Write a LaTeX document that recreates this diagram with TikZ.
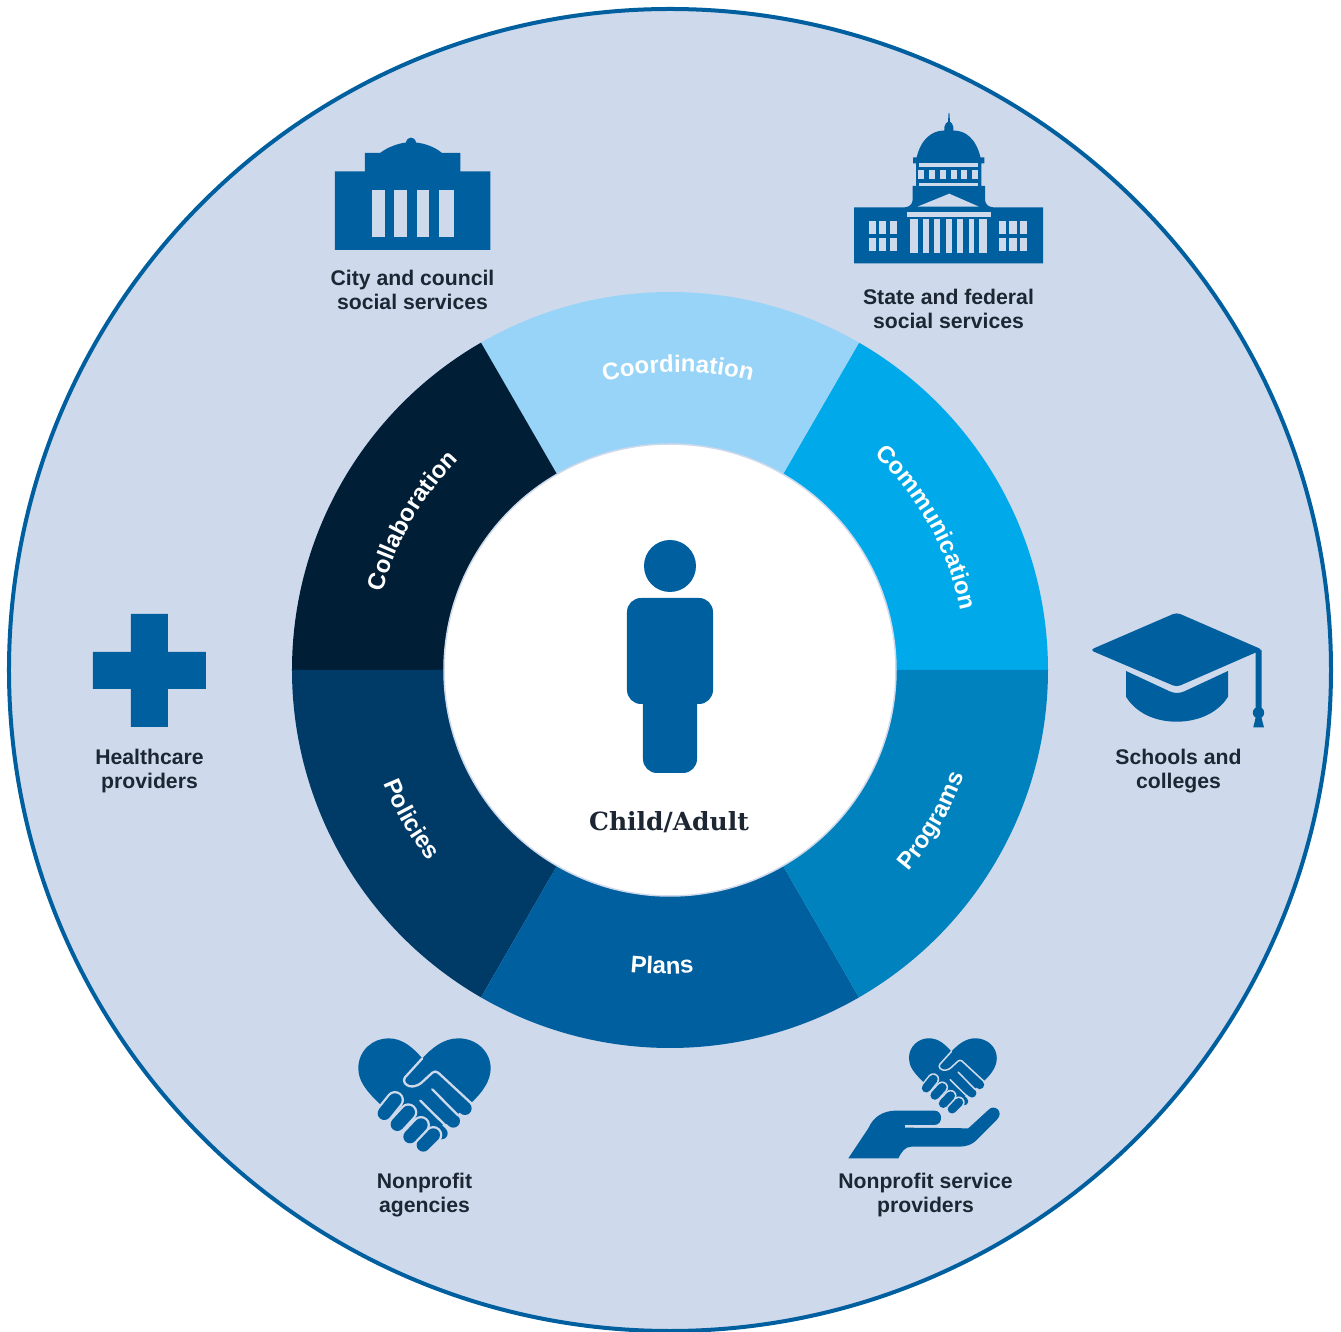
\documentclass[tikz,border=0pt]{standalone}
\usepackage{fontspec}
\setmainfont{Liberation Sans}
\newfontfamily\slabfont{DejaVu Serif}
\usetikzlibrary{decorations.text}
\definecolor{bgblue}{HTML}{CED9EC}
\definecolor{iconblue}{HTML}{005F9E}
\definecolor{segcoord}{HTML}{97D4F7}
\definecolor{segcomm}{HTML}{00AAEA}
\definecolor{segprog}{HTML}{0082BE}
\definecolor{segpol}{HTML}{003B68}
\definecolor{segcoll}{HTML}{001E36}
\definecolor{labeldark}{HTML}{1D2733}
\tikzset{
  orglabel/.style={align=center,text=labeldark,font=\fontsize{21.2}{24}\selectfont\bfseries},
  ringlabel/.style={decorate,decoration={text along path,text align=center,
    text={|\fontsize{24}{26}\selectfont\bfseries\color{white}|#1}}},
  icon/.style={fill=iconblue},
  cutout/.style={fill=bgblue}
}
% heart with two hands, drawn in the units of a 3x crop
\newcommand{\handheart}[3]{
  \begin{scope}[shift={(#1,#2)},scale=#3]
    \fill[icon] (105,237) .. controls (60,195) and (40,165) .. (40,130)
      .. controls (40,75) and (85,40) .. (130,40) .. controls (175,40) and (205,70) .. (232,100)
      .. controls (260,70) and (295,40) .. (340,40) .. controls (395,40) and (437,80) .. (437,130)
      .. controls (437,165) and (415,200) .. (380,232) -- (300,300) -- (200,300) -- cycle;
    \draw[iconblue,line cap=round,line width=#3*40pt] (300,190) -- (360,250);
    \draw[iconblue,line cap=round,line width=#3*40pt] (265,228) -- (325,288);
    \draw[iconblue,line cap=round,line width=#3*36pt] (235,268) -- (290,325);
    \draw[bgblue,line width=#3*7pt,line cap=round,line join=round,rounded corners=#3*12pt]
      (232,100) -- (172,166) -- (190,186) -- (220,182) -- (271,135) -- (380,236);
    \draw[bgblue,line width=#3*7pt,line cap=round] (262,193) -- (340,272);
    \draw[bgblue,line width=#3*7pt,line cap=round] (226,227) -- (305,305);
    \foreach \ax/\ay/\bx/\by in {235/360/265/330,195/335/228/300,157/298/190/262,118/265/150/225}{
      \draw[bgblue,line cap=round,line width=#3*54pt] (\ax,\ay) -- (\bx,\by);
      \draw[iconblue,line cap=round,line width=#3*40pt] (\ax,\ay) -- (\bx,\by);
    }
  \end{scope}
}
\begin{document}
\begin{tikzpicture}[x=1pt,y=1pt]
\useasboundingbox (-670,-662) rectangle (671,670);
\draw[fill=bgblue,draw=iconblue,line width=4pt] (0,0) circle (661);
% ring
\foreach \a/\segcolor in {0/segcomm,60/segcoord,120/segcoll,180/segpol,240/iconblue,300/segprog}{
  \fill[\segcolor] (0,0) -- (\a:378) arc[start angle=\a,delta angle=60,radius=378] -- cycle;
}
\draw[fill=white,draw=bgblue,line width=1.5pt] (0,0) circle (226);
\path[ringlabel=Coordination,shift={(8,0)}] (120:298) arc[start angle=120,end angle=60,radius=298];
\path[ringlabel=Communication] (59:297) arc[start angle=59,end angle=-1,radius=297];
\path[ringlabel=Collaboration] (180:298) arc[start angle=180,end angle=120,radius=298];
\path[ringlabel=Programs] (-60:312) arc[start angle=-60,end angle=0,radius=312];
\path[ringlabel=Plans,shift={(-8,0)}] (-120:304) arc[start angle=-120,end angle=-60,radius=304];
\path[ringlabel=Policies] (-180:308) arc[start angle=-180,end angle=-120,radius=308];
\begin{scope}[shift={(-670,670)},y=-1pt]
  % person
  \fill[icon] (670,566) circle (26);
  \fill[icon,rounded corners=14pt] (627,598) rectangle (713,704);
  \fill[icon,rounded corners=14pt] (643,690) rectangle (697,773);
  \node[font=\fontsize{25}{28}\selectfont\slabfont\bfseries,text=labeldark] (person) at (669,822) {Child/Adult};
  % city building
  \fill[icon] (335,171.5) -- (365,171.5) -- (365,153) -- (380,153) .. controls (388,147) and (398,143.5) .. (406,142.5)
    .. controls (407,136) and (415,136) .. (416,142.5) .. controls (425,143.5) and (435,147) .. (442,153)
    -- (460.5,153) -- (460.5,171.5) -- (490.5,171.5) -- (490.5,250) -- (335,250) -- cycle;
  \foreach \xa/\xb in {371.7/384.7,394/407.3,416.7/429.3,439/453.7}{
    \fill[cutout] (\xa,190) rectangle (\xb,236.7);
  }
  \node[orglabel] (city) at (412.5,290) {City and council\\social services};
  % state building
  \fill[icon] (854,207.3) -- (905,207.3) .. controls (909,207) and (912,205) .. (912.7,200) -- (912.7,186) -- (916,186)
    -- (916,163.3) -- (913,163.3) -- (913,157.3) -- (916.7,157.3) .. controls (921,139) and (932,130.5) .. (944.3,130.5)
    -- (944.3,127) .. controls (944.5,124) and (947,122.5) .. (948,121.7) -- (948.6,113) -- (949.4,113) -- (950,121.7)
    .. controls (951,122.5) and (953.3,124) .. (953.3,127) -- (953.3,130.5) .. controls (966,130.5) and (976,139) .. (980.5,157.3)
    -- (984.3,157.3) -- (984.3,163.3) -- (981.3,163.3) -- (981.3,186) -- (985,186) -- (985,200) .. controls (985.5,205) and (989,207) .. (993,207.3)
    -- (1043,207.3) -- (1043,263.3) -- (854,263.3) -- cycle;
  \fill[cutout] (918.7,163.3) rectangle (978,166.7);
  \fill[cutout] (918.7,182.7) rectangle (978,186);
  \foreach \xa in {918.3,929,939.7,950.7,961.3,972}{
    \fill[cutout] (\xa,170) rectangle ++(6,9.3);
  }
  \fill[cutout] (917.3,206.7) -- (949.3,193.7) -- (979,206.7) -- cycle;
  \fill[cutout] (906.7,211.7) rectangle (990.7,216.7);
  \foreach \xa/\xb in {910.3/918,923.3/929,934.3/940,946/951.7,957.3/963,968.7/974.3,979.3/986.7}{
    \fill[cutout] (\xa,218.7) rectangle (\xb,252.7);
  }
  \foreach \xa in {868.7,879,889.7,998.7,1009.3,1020}{
    \fill[cutout] (\xa,221) rectangle ++(7.3,13);
    \fill[cutout] (\xa,237.7) rectangle ++(7.3,13);
  }
  \node[orglabel] (state) at (948.5,309) {State and federal\\social services};
  % cross
  \fill[icon] (131,614) -- (168,614) -- (168,652) -- (206,652) -- (206,689) -- (168,689) -- (168,727)
    -- (131,727) -- (131,689) -- (93,689) -- (93,652) -- (131,652) -- cycle;
  \node[orglabel] (health) at (149.5,771) {Healthcare\\providers};
  % cap
  \fill[icon,rounded corners=4pt] (1090,650) -- (1176.7,612.5) -- (1263,650) -- (1255.7,652.5) -- (1176.7,687) -- cycle;
  \fill[icon] (1255.7,652) -- (1261.7,650) -- (1261.7,708) -- (1255.7,708) -- cycle;
  \fill[icon] (1258.5,712.7) circle (5.7);
  \fill[icon] (1256.5,714) -- (1260.5,714) -- (1264,727.3) -- (1253.3,727.3) -- cycle;
  \fill[icon] (1126,671) -- (1170,691.5) .. controls (1175,693.5) and (1179,693.5) .. (1184,691.5) -- (1228,671) -- (1228,696.7)
    .. controls (1218,713) and (1198,721.7) .. (1176.7,721.7) .. controls (1155,721.7) and (1136,713) .. (1126,696.7) -- cycle;
  \node[orglabel] (schools) at (1178.5,771) {Schools and\\colleges};
  % hearts and hand
  \handheart{345}{1025}{0.3333}
  \node[orglabel] (agencies) at (424.5,1195) {Nonprofit\\agencies};
  \handheart{900.1}{1029.4}{0.2213}
  \begin{scope}[shift={(840,1025)},scale=0.3333]
    \fill[icon] (25,400) -- (85,310) .. controls (100,275) and (130,258) .. (165,257) -- (283,257)
      .. controls (310,257) and (310,300) .. (283,300) -- (195,300) -- (195,308) -- (385,310) -- (445,255)
      .. controls (462,235) and (495,260) .. (470,285) -- (415,340) .. controls (395,362) and (375,365) .. (355,365)
      -- (215,365) .. controls (195,365) and (185,380) .. (175,400) -- cycle;
  \end{scope}
  \node[orglabel] (service) at (925.5,1195) {Nonprofit service\\providers};
\end{scope}
\end{tikzpicture}
\end{document}
